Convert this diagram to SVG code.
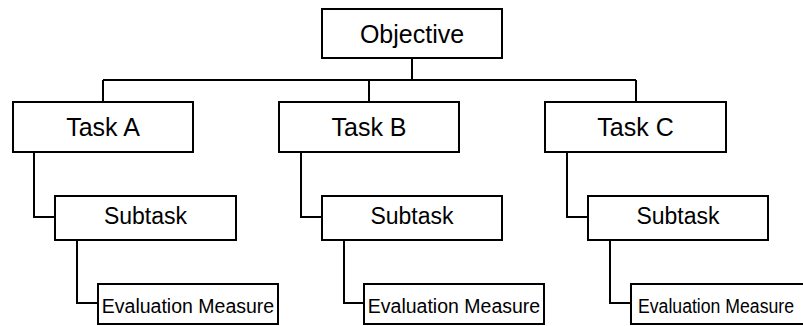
<svg xmlns="http://www.w3.org/2000/svg" width="803" height="326" viewBox="0 0 803 326">
  <style>
    .box { fill: #ffffff; stroke: #000000; stroke-width: 2; }
    .link { fill: none; stroke: #000000; stroke-width: 2; }
    text { font-family: "Liberation Sans", Arial, sans-serif; fill: #000000; text-anchor: middle; }
    .t1 { font-size: 25px; }
    .t2 { font-size: 23px; }
    .t3 { font-size: 19.5px; }
  </style>
  <rect width="803" height="326" fill="#ffffff"/>

  <!-- connectors -->
  <g id="connectors">
    <path class="link" d="M412 58 V80 M103 80 H636 M103 80 V102 M369 80 V102 M636 80 V102"/>
    <path class="link" d="M34 152 V217 H55 M77 240 V303 H98"/>
    <path class="link" d="M301 152 V217 H322 M344 240 V303 H364"/>
    <path class="link" d="M567 152 V217 H588 M610 240 V303 H631"/>
  </g>

  <g id="objective">
    <rect class="box" x="322" y="9" width="180" height="49"/>
    <text class="t1" x="412" y="42.5">Objective</text>
  </g>

  <g id="task-a">
    <rect class="box" x="13" y="102" width="180" height="50"/>
    <text class="t1" x="103" y="136">Task A</text>
  </g>
  <g id="task-b">
    <rect class="box" x="279" y="102" width="180" height="50"/>
    <text class="t1" x="369" y="136">Task B</text>
  </g>
  <g id="task-c">
    <rect class="box" x="545" y="102" width="181" height="50"/>
    <text class="t1" x="635.5" y="136">Task C</text>
  </g>

  <g id="subtask-a">
    <rect class="box" x="55" y="196" width="181" height="44"/>
    <text class="t2" x="145.5" y="223.5">Subtask</text>
  </g>
  <g id="subtask-b">
    <rect class="box" x="322" y="196" width="180" height="44"/>
    <text class="t2" x="412" y="223.5">Subtask</text>
  </g>
  <g id="subtask-c">
    <rect class="box" x="588" y="196" width="180" height="44"/>
    <text class="t2" x="678" y="223.5">Subtask</text>
  </g>

  <g id="measure-a">
    <rect class="box" x="98" y="284" width="180" height="40"/>
    <text class="t3" x="188" y="312.5">Evaluation Measure</text>
  </g>
  <g id="measure-b">
    <rect class="box" x="364" y="284" width="180" height="40"/>
    <text class="t3" x="454" y="312.5">Evaluation Measure</text>
  </g>
  <g id="measure-c">
    <rect class="box" x="631" y="284" width="180" height="40"/>
    <text class="t3" x="716" y="312.5" textLength="156" lengthAdjust="spacingAndGlyphs">Evaluation Measure</text>
  </g>
</svg>
